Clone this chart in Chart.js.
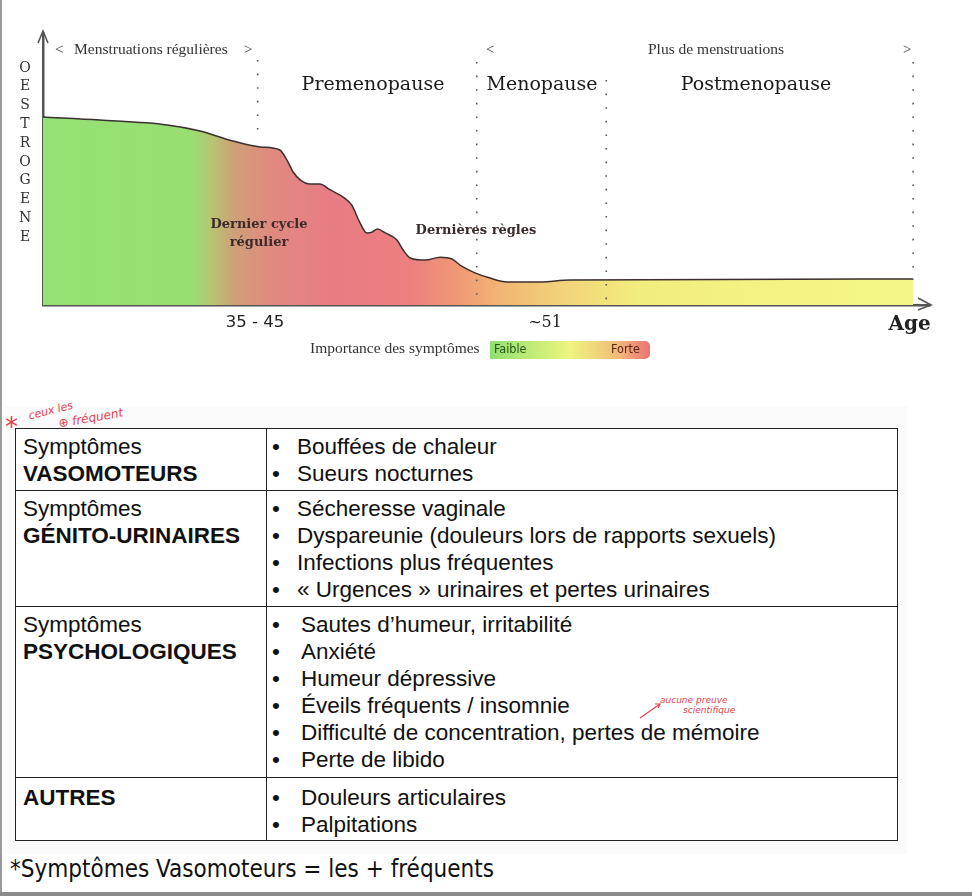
<!DOCTYPE html>
<html>
<head>
<meta charset="utf-8">
<script src="https://cdn.jsdelivr.net/npm/chart.js@4.4.1/dist/chart.umd.min.js"></script>
<style>
  html, body { margin: 0; padding: 0; background: #fff; }
  body { width: 972px; height: 896px; position: relative; overflow: hidden; font-family: "Liberation Sans", Arial, sans-serif; }
  #chartBox { position: absolute; left: 0; top: 0; width: 972px; height: 380px; }
  .edge { position: absolute; left: 0; top: 0; width: 2px; height: 892px; background: #9a9a9a; }
  .foot { position: absolute; left: 0; top: 892px; width: 972px; height: 4px; background: #8a8a8a; }
  .shade { position: absolute; left: 6px; top: 406px; width: 901px; height: 448px; background: #fafafa; }
  table { position: absolute; left: 15px; top: 428px; border-collapse: collapse; font-size: 22.5px; color: #111; }
  td { border: 1.5px solid #222; vertical-align: top; padding: 4px 0 0 0; line-height: 27px; background: #fff; white-space: nowrap; }
  td.head { width: 243px; padding-left: 7px; }
  td.items { width: 630px; }
  .it { position: relative; padding-left: 30px; }
  .it.wide { padding-left: 34px; }
  .it::before { content: "\2022"; position: absolute; left: 5px; top: 0; }
  .note { position: absolute; left: 10px; top: 855px; font-family: "Liberation Sans Narrow", "DejaVu Sans Condensed", sans-serif; font-size: 24px; color: #111; }
  .red { position: absolute; color: #e4414f; font-family: "DejaVu Sans", sans-serif; font-style: italic; white-space: nowrap; }
</style>
</head>
<body>
<div class="edge"></div>
<div id="chartBox"><canvas id="myChart"></canvas></div>
<div class="shade"></div>
<table>
  <tr style="height:62px"><td class="head">Symptômes<br><b>VASOMOTEURS</b></td>
    <td class="items"><div class="it">Bouffées de chaleur</div><div class="it">Sueurs nocturnes</div></td></tr>
  <tr style="height:116px"><td class="head">Symptômes<br><b>GÉNITO-URINAIRES</b></td>
    <td class="items"><div class="it">Sécheresse vaginale</div><div class="it">Dyspareunie (douleurs lors de rapports sexuels)</div><div class="it">Infections plus fréquentes</div><div class="it">« Urgences » urinaires et pertes urinaires</div></td></tr>
  <tr style="height:171px"><td class="head">Symptômes<br><b>PSYCHOLOGIQUES</b></td>
    <td class="items"><div class="it wide">Sautes d’humeur, irritabilité</div><div class="it wide">Anxiété</div><div class="it wide">Humeur dépressive</div><div class="it wide">Éveils fréquents / insomnie</div><div class="it wide">Difficulté de concentration, pertes de mémoire</div><div class="it wide">Perte de libido</div></td></tr>
  <tr style="height:63px"><td class="head" style="padding-top:6px"><b>AUTRES</b></td>
    <td class="items" style="padding-top:6px"><div class="it wide">Douleurs articulaires</div><div class="it wide">Palpitations</div></td></tr>
</table>
<div class="red" style="left:5px;top:412px;font-size:26px;font-style:normal">*</div>
<div class="red" style="left:28px;top:404px;font-size:11px;transform:rotate(-14deg)">ceux les</div>
<div class="red" style="left:58px;top:411px;font-size:12px;transform:rotate(-10deg)">⊕ fréquent</div>
<div class="red" style="left:660px;top:695px;font-size:9px">aucune preuve</div>
<div class="red" style="left:683px;top:705px;font-size:9px">scientifique</div>
<svg style="position:absolute;left:636px;top:698px" width="30" height="24"><path d="M4 20 L24 6" stroke="#e4414f" stroke-width="1.2" fill="none"/><path d="M19 6 L24 6 L22 10" stroke="#e4414f" stroke-width="1.2" fill="none"/></svg>
<div class="note">*Symptômes Vasomoteurs = les + fréquents</div>
<div class="foot"></div>

<script>
// estrogen curve (x: position along age axis 0-100, y: level 0-100)
let curveAge = [0, 6.4, 14, 17.7, 21.4, 24.5, 26.7, 27.5, 28.2, 29, 30.1, 31.2, 32.4, 34, 34.8, 35.7, 36.5, 37.1, 37.7, 38.6, 39.9, 40.6, 41.4, 43.1, 44.8, 46.1, 47.2, 48.7, 50.4, 52.3, 56, 59.4, 98.1];
let curveLevel = [69.1, 68, 66.2, 64, 60.3, 58.1, 57, 53.3, 48.9, 46, 44.5, 44.5, 42.3, 39.3, 36.8, 30.5, 26.5, 26.8, 27.9, 26.5, 23.9, 20.2, 17.3, 16.5, 17.6, 16.9, 14.3, 11.8, 9.9, 8.5, 8.5, 9.2, 9.6];

let tickValues = [23.9, 56.6, 97.7];
let tickLabels = ['35 - 45', '~51', 'Age'];

let phaseBounds = [24.2, 48.9, 63.5, 98.1];
let phaseNames = ['Premenopause', 'Menopause', 'Postmenopause'];
let yTitle = 'OESTROGENE';

let fillStops = [0, 0.166, 0.188, 0.216, 0.256, 0.324, 0.414, 0.47, 0.515, 0.583, 0.673, 1];
let fillColors = ['#94e174', '#98df73', '#b4c872', '#cfa078', '#e08a80', '#e87c84', '#ee7f7f', '#f09a74', '#f2b574', '#f2d27a', '#f2ee7e', '#f4f888'];

function areaFill(context) {
    let chart = context.chart;
    let area = chart.chartArea;
    if (!area) return '#94e174';
    let g = chart.ctx.createLinearGradient(area.left, 0, area.right, 0);
    fillStops.forEach((s, i) => g.addColorStop(s, fillColors[i]));
    return g;
}

function txt(c, s, x, y, font, color, align) {
    c.font = font;
    c.fillStyle = color || '#222';
    c.textAlign = align || 'left';
    c.textBaseline = 'middle';
    c.fillText(s, x, y);
}

let decorations = {
    id: 'decorations',
    afterDatasetsDraw(chart) {
        let c = chart.ctx;
        let xs = chart.scales.x;
        let area = chart.chartArea;
        c.save();

        // dotted phase boundaries
        let spans = [[60, 140], [62, 300], [80, 300], [62, 280]];
        c.strokeStyle = '#555';
        c.lineWidth = 1.6;
        c.setLineDash([1.6, 12]);
        phaseBounds.forEach((b, i) => {
            let px = xs.getPixelForValue(b);
            c.beginPath();
            c.moveTo(px, spans[i][0]);
            c.lineTo(px, spans[i][1]);
            c.stroke();
        });
        c.setLineDash([]);

        // arrows on axes
        c.strokeStyle = '#555';
        c.lineWidth = 1.6;
        c.beginPath();
        c.moveTo(area.left - 5, area.top + 10);
        c.lineTo(area.left, area.top - 2);
        c.lineTo(area.left + 5, area.top + 10);
        c.moveTo(area.right - 12, area.bottom - 7);
        c.lineTo(area.right + 1, area.bottom);
        c.lineTo(area.right - 12, area.bottom + 5);
        c.stroke();

        // top headings
        let serif = '"Liberation Serif", serif';
        let dserif = '"DejaVu Serif", serif';
        txt(c, '<', 55, 50, '15px ' + serif, '#333');
        txt(c, 'Menstruations régulières', 74, 50, '15.5px ' + serif, '#333');
        txt(c, '>', 244, 50, '15px ' + serif, '#333');
        txt(c, '<', 486, 50, '15px ' + serif, '#333');
        txt(c, 'Plus de menstruations', 648, 50, '15.5px ' + serif, '#333');
        txt(c, '>', 903, 50, '15px ' + serif, '#333');

        let phaseX = [373, 542, 756];
        phaseNames.forEach((n, i) => txt(c, n, phaseX[i], 85, '19px ' + dserif, '#1a1a1a', 'center'));

        // y axis title, one letter per row
        for (let i = 0; i < yTitle.length; i++) {
            txt(c, yTitle[i], 25, 68 + i * 18.8, '14px ' + dserif, '#333', 'center');
        }

        txt(c, 'Dernier cycle', 259, 225, 'bold 13px ' + dserif, '#3a2a2a', 'center');
        txt(c, 'régulier', 259, 243, 'bold 13px ' + dserif, '#3a2a2a', 'center');
        txt(c, 'Dernières règles', 476, 231, 'bold 13px ' + dserif, '#3a2a2a', 'center');

        // symptom legend
        txt(c, 'Importance des symptômes', 310, 349, '15.5px ' + serif, '#333');
        let g = c.createLinearGradient(490, 0, 650, 0);
        g.addColorStop(0, '#8fe070');
        g.addColorStop(0.5, '#eef57e');
        g.addColorStop(0.8, '#f2bb78');
        g.addColorStop(1, '#ea7272');
        c.fillStyle = g;
        c.beginPath();
        c.roundRect(490, 341, 160, 18, [1, 5, 5, 1]);
        c.fill();
        txt(c, 'Faible', 494, 350, '12.5px "DejaVu Sans Condensed", "DejaVu Sans", sans-serif', '#24561a');
        txt(c, 'Forte', 611, 350, '12.5px "DejaVu Sans Condensed", "DejaVu Sans", sans-serif', '#5a2418');

        c.restore();
    }
};

let myChart = document.getElementById('myChart').getContext('2d');

let chart = new Chart(myChart, {
    type: 'line',
    data: {
        datasets: [{
            data: curveAge.map((a, i) => ({ x: a, y: curveLevel[i] })),
            borderColor: '#3a3030',
            borderWidth: 1.5,
            backgroundColor: areaFill,
            fill: 'origin',
            pointRadius: 0,
            cubicInterpolationMode: 'monotone'
        }]
    },
    options: {
        responsive: true,
        maintainAspectRatio: false,
        animation: false,
        layout: { padding: { top: 33, right: 42, left: 0, bottom: 0 } },
        plugins: { legend: { display: false }, tooltip: { enabled: false } },
        scales: {
            x: {
                type: 'linear',
                min: 0,
                max: 100,
                grid: { display: false },
                border: { color: '#555', width: 2.5 },
                afterFit(scale) { scale.height = 75; },
                afterBuildTicks(scale) { scale.ticks = tickValues.map(v => ({ value: v })); },
                ticks: {
                    padding: 0,
                    color: '#222',
                    maxRotation: 0,
                    autoSkip: false,
                    callback: (v, i) => tickLabels[i],
                    font: (ctx) => [
                        { family: '"DejaVu Sans", sans-serif', size: 16.5 },
                        { family: '"DejaVu Serif", serif', size: 16 },
                        { family: '"DejaVu Serif", serif', size: 20, weight: 'bold' }
                    ][ctx.index] || { size: 16 }
                }
            },
            y: {
                min: 0,
                max: 100,
                grid: { display: false },
                ticks: { display: false },
                border: { color: '#555', width: 2.5 },
                afterFit(scale) { scale.width = 43; }
            }
        }
    },
    plugins: [decorations]
});
</script>
</body>
</html>
